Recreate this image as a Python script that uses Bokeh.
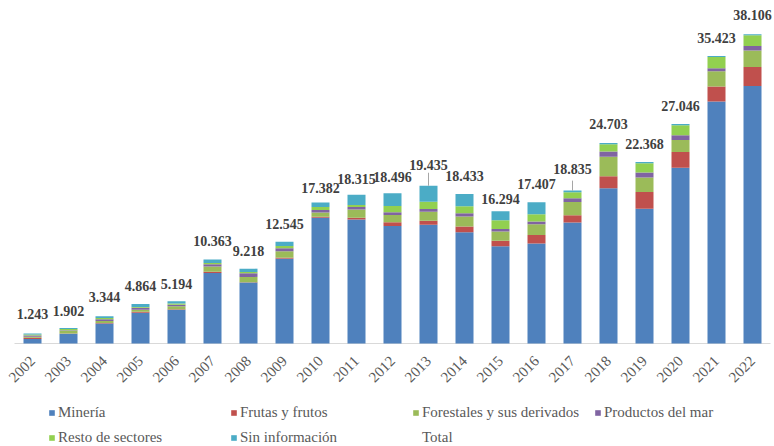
import math
from bokeh.plotting import figure
from bokeh.models import ColumnDataSource, Range1d, Legend, LegendItem, FixedTicker
from bokeh.core.properties import value
from bokeh.embed import file_html
from bokeh.resources import INLINE

# ---------------- data ----------------
years = [2002, 2003, 2004, 2005, 2006, 2007, 2008, 2009, 2010, 2011,
         2012, 2013, 2014, 2015, 2016, 2017, 2018, 2019, 2020, 2021, 2022]
mineria = [540, 1190, 2470, 3800, 4150, 8700, 7500, 10450, 15500, 15290,
           14476, 14635, 13713, 11974, 12307, 14905, 19113, 16608, 21666, 29820, 31736]
frutas = [160, 40, 60, 100, 80, 150, 50, 120, 120, 200,
          450, 490, 700, 700, 1070, 900, 1480, 2060, 1930, 1840, 2340]
forestales = [120, 330, 250, 250, 350, 650, 650, 780, 530, 1030,
              900, 1110, 1230, 1110, 1320, 1640, 2430, 1770, 1480, 1880, 2010]
mar = [180, 80, 200, 250, 200, 250, 450, 370, 290, 290,
       330, 330, 410, 330, 330, 450, 620, 620, 580, 370, 580]
resto = [110, 160, 150, 100, 150, 180, 150, 290, 370, 250,
         780, 900, 860, 1070, 900, 740, 900, 1150, 1230, 1393, 1320]
sin_info = [133, 102, 214, 364, 264, 433, 418, 535, 572, 1255,
            1560, 1970, 1520, 1110, 1480, 200, 160, 160, 160, 120, 120]
totals = [1243, 1902, 3344, 4864, 5194, 10363, 9218, 12545, 17382, 18315,
          18496, 19435, 18433, 16294, 17407, 18835, 24703, 22368, 27046, 35423, 38106]

series_names = ["Minería", "Frutas y frutos", "Forestales y sus derivados",
                "Productos del mar", "Resto de sectores", "Sin información"]

# ---------------- layout / style ----------------
colors = ["#4F81BD", "#C0504D", "#9BBB59", "#8064A2", "#92D050", "#4BACC6"]
label_gap_px = [19, 17, 19, 18, 17, 18, 18, 18, 14, 16,
                16, 21, 18, 12, 18, 22, 19, 18, 18, 18, 19]
leader_years = [2013, 2017]
leader_px = [13, 10]

W, H = 774, 446
BASE_PX = 343           # baseline distance from top of the plot area
UPP = 123.2             # data units per pixel
Y_END = BASE_PX * UPP
Y_START = -(H - BASE_PX) * UPP
CAT_PX = 36.0           # pixels per category
LEFT_PAD_PX, RIGHT_PAD_PX = 14, 4

keys = ["mineria", "frutas", "forestales", "mar", "resto", "sin_info"]
src = ColumnDataSource(dict(
    years=years, mineria=mineria, frutas=frutas, forestales=forestales, mar=mar,
    resto=resto, sin_info=sin_info, totals=totals,
    labels=[f"{t:,}".replace(",", ".") for t in totals],
    dy=[-g for g in label_gap_px],
))

x_start = years[0] - 0.5 - LEFT_PAD_PX / CAT_PX
x_end = years[-1] + 0.5 + RIGHT_PAD_PX / CAT_PX

p = figure(x_range=Range1d(x_start, x_end), y_range=Range1d(Y_START, Y_END),
           width=W, height=H, output_backend="svg", toolbar_location=None,
           y_axis_location=None, min_border_left=0, min_border_right=0,
           min_border_top=0, min_border_bottom=0)
p.outline_line_color = None
p.xgrid.visible = False
p.ygrid.visible = False
p.background_fill_color = "white"

# category axis baseline
p.segment(x0=[years[0] - 0.5], y0=[0], x1=[years[-1] + 0.5], y1=[0],
          line_color="#D9D9D9", line_width=1)

bars = p.vbar_stack(keys, x="years", width=0.5, fill_color=colors, line_color=None, source=src)
tot_r = p.line(x="years", y="totals", source=src, line_alpha=0)

p.text(x="years", y="totals", text="labels", y_offset="dy", source=src,
       text_font=value("Liberation Serif"), text_font_style="bold", text_font_size="14px",
       text_color="#404040", text_align="center", text_baseline="middle")

ti = [years.index(y) for y in leader_years]
lsrc = ColumnDataSource(dict(
    x=leader_years,
    y0=[totals[i] for i in ti],
    y1=[totals[i] + px * UPP for i, px in zip(ti, leader_px)],
))
p.segment(x0="x", y0="y0", x1="x", y1="y1", source=lsrc, line_color="#A6A6A6", line_width=1)

ax = p.xaxis[0]
ax.fixed_location = 0
ax.ticker = FixedTicker(ticks=years)
ax.major_label_overrides = {y: str(y) for y in years}
ax.axis_line_color = None
ax.major_tick_line_color = None
ax.minor_tick_line_color = None
ax.major_label_orientation = math.pi / 4
ax.major_label_text_font = "Liberation Serif"
ax.major_label_text_font_size = "15px"
ax.major_label_text_color = "#595959"
ax.major_label_standoff = 9

items = [LegendItem(label=n, renderers=[r]) for n, r in zip(series_names, bars)]
items.append(LegendItem(label="Total", renderers=[tot_r]))
legend = Legend(items=items, location=(48, 0), orientation="horizontal", ncols=4,
                glyph_width=7, glyph_height=7, label_width=165, label_height=18,
                label_standoff=3, spacing=7, padding=0, margin=0,
                border_line_color=None, background_fill_alpha=0)
legend.label_text_font = "Liberation Serif"
legend.label_text_font_size = "15px"
legend.label_text_color = "#595959"
legend.label_text_font_style = "normal"
p.add_layout(legend, "center")

open("out.html", "w").write(file_html(p, INLINE))
